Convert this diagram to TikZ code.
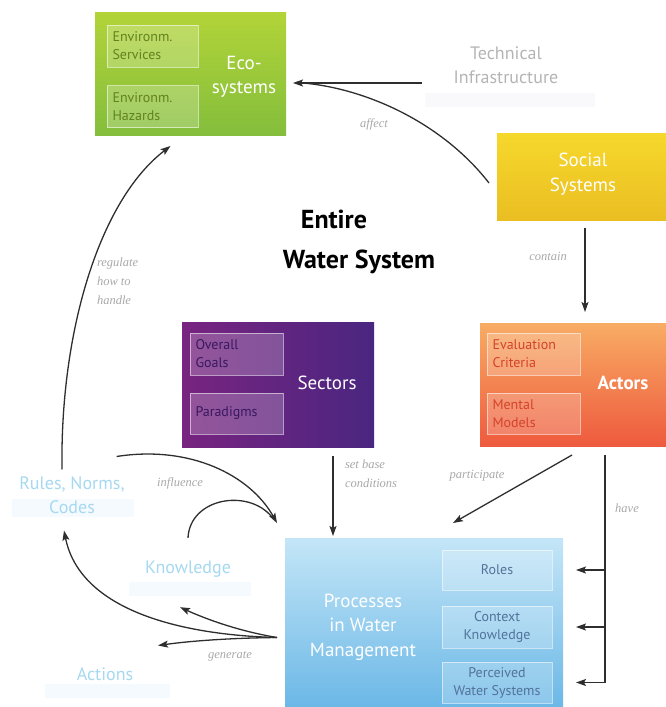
\documentclass[tikz,border=0pt]{standalone}
\usepackage{fontspec}
\setmainfont{PT Sans}
\newfontfamily\labelfont{Liberation Serif}
\usetikzlibrary{arrows.meta,calc}

\definecolor{ink}{HTML}{2E2E2E}
\definecolor{lbl}{HTML}{A8A8A8}
\definecolor{paleblue}{HTML}{A6D8F0}
\definecolor{palegray}{HTML}{B4B4B4}
\definecolor{ecoin}{HTML}{62821E}
\definecolor{secin}{HTML}{3A1860}
\definecolor{actin}{HTML}{D4432A}
\definecolor{procin}{HTML}{52729A}

\begin{document}
\begin{tikzpicture}[x=1pt,y=-1pt,
  every node/.style={inner sep=0pt, outer sep=0pt},
  big/.style={text=white, align=center, font=\fontsize{19}{24.5}\selectfont},
  inbox/.style={rectangle, draw=white, draw opacity=0.55, fill=white, fill opacity=0.22,
    text opacity=1, line width=0.8pt, font=\fontsize{14}{18}\selectfont},
  faint/.style={align=center, font=\fontsize{18}{24}\selectfont},
  haze/.style={rectangle, fill=paleblue, fill opacity=0.12, draw=none},
  edgelbl/.style={text=lbl, font=\fontsize{12.5}{19}\selectfont\labelfont\itshape, align=left},
  arr/.style={draw=ink, line width=1.3pt, -{Stealth[length=10pt,width=7pt,inset=2pt]}},
  plain/.style={draw=ink, line width=1.3pt},
]
\useasboundingbox (0,0) rectangle (666,707);

% ---- coloured boxes ----
\node[rectangle, minimum width=191, minimum height=123,
  top color={rgb,255:red,178;green,212;blue,56}, bottom color={rgb,255:red,132;green,190;blue,60}]
  (eco) at (190.5,73.5) {};
\node[rectangle, minimum width=176, minimum height=87,
  top color={rgb,255:red,246;green,216;blue,44}, bottom color={rgb,255:red,234;green,190;blue,34}]
  (social) at (585,176.5) {};
\node[rectangle, minimum width=192, minimum height=125,
  left color={rgb,255:red,120;green,36;blue,128}, right color={rgb,255:red,74;green,38;blue,128}]
  (sectors) at (278,384.5) {};
\node[rectangle, minimum width=190, minimum height=123,
  top color={rgb,255:red,248;green,172;blue,100}, bottom color={rgb,255:red,238;green,90;blue,62}]
  (actors) at (575,384.5) {};
\node[rectangle, minimum width=278, minimum height=175,
  top color={rgb,255:red,196;green,230;blue,247}, bottom color={rgb,255:red,104;green,182;blue,230}]
  (proc) at (424,625.5) {};

% ---- inner boxes ----
\node[inbox, minimum width=91, minimum height=42, text=ecoin, align=left, text width=80]
  (esrv) at (152.5,46) {Environm.\\Services};
\node[inbox, minimum width=91, minimum height=42, text=ecoin, align=left, text width=80]
  (ehaz) at (152.5,106.5) {Environm.\\Hazards};
\node[big] (ecot) at (244,77) {Eco-\\systems};

\node[big] (socialt) at (583,174) {Social\\Systems};

\node[inbox, minimum width=93, minimum height=42, text=secin, align=left, text width=82]
  (goals) at (236.5,354) {Overall\\Goals};
\node[inbox, minimum width=93, minimum height=41, text=secin, align=left, text width=82]
  (para) at (236.5,413.5) {Paradigms};
\node[big] (sectorst) at (327,383) {Sectors};

\node[inbox, minimum width=93, minimum height=42, text=actin, align=left, text width=82]
  (evalc) at (533.5,354) {Evaluation\\Criteria};
\node[inbox, minimum width=93, minimum height=41, text=actin, align=left, text width=82]
  (mental) at (533.5,413.5) {Mental\\Models};
\node[big, font=\fontsize{19}{24}\selectfont\bfseries] (actorst) at (623,383) {Actors};

\node[inbox, minimum width=110, minimum height=40, text=procin, align=center]
  (roles) at (497,570) {Roles};
\node[inbox, minimum width=110, minimum height=42, text=procin, align=center]
  (context) at (497,627) {Context\\Knowledge};
\node[inbox, minimum width=110, minimum height=41, text=procin, align=center]
  (perceived) at (497,682.5) {Perceived\\Water Systems};
\node[big] (proct) at (363,627) {Processes\\in Water\\Management};

% ---- pale elements ----
\node[rectangle, fill={rgb,255:red,200;green,196;blue,230}, fill opacity=0.10, minimum width=170, minimum height=14]
  (techhaze) at (510,100) {};
\node[faint, text=palegray] (tech) at (506,65.5) {Technical\\Infrastructure};

\node[haze, minimum width=122, minimum height=18] (ruleshaze) at (73,508) {};
\node[faint, text=paleblue] (rules) at (72,495) {Rules, Norms,\\Codes};

\node[haze, minimum width=122, minimum height=14] (knowhaze) at (190,589) {};
\node[faint, text=paleblue] (know) at (188,569) {Knowledge};

\node[haze, minimum width=125, minimum height=14] (acthaze) at (107,691) {};
\node[faint, text=paleblue] (actions) at (105,674) {Actions};

% ---- title ----
\node[align=center, font=\fontsize{26}{40}\selectfont\bfseries, text=black] (title) at (359,242)
  {\hspace*{-50pt}Entire\\Water System};

% ---- connectors ----
% technical infrastructure -> ecosystems
\coordinate (techin) at ($(tech.west)+(-32,17.5)$);
\draw[arr, shorten >=7pt] (techin) -- (techin -| eco.east);
% social systems affect ecosystems
\draw[plain] ($(social.west)+(-8,6.5)$) .. controls (440,120) and (360,86) .. ($(eco.east)+(10,9)$);
\node[edgelbl] (affect) at (374,124) {affect};

% social systems contain actors
\draw[arr] ($(social.south)+(0,8)$) -- ($(actors.north)+(10,-11)$);
\node[edgelbl] (contain) at (548,256) {contain};

% sectors set base conditions
\draw[arr] ($(sectors.south)+(55,9)$) -- ($(proc.north)+(-91,-2)$);
\node[edgelbl, anchor=west] (setbase) at (345,474) {set base\\conditions};

% actors participate
\draw[arr] ($(actors.south)+(-3,9)$) -- ($(proc.north)+(29,-15)$);
\node[edgelbl] (particip) at (477,476) {participate};

% actors have roles / context knowledge / perceived systems
\coordinate (havetop) at ($(actors.south)+(30,9)$);
\coordinate (havebot) at (havetop |- perceived.east);
\draw[plain] (havetop) -- (havebot);
\draw[arr, shorten >=24pt] (havetop |- roles.east) -- (roles.east);
\draw[arr, shorten >=24pt] (havetop |- context.east) -- (context.east);
\draw[arr, shorten >=24pt] (havebot) -- (perceived.east);
\node[edgelbl] (have) at (627,508) {have};

% rules regulate how to handle ecosystems
\draw[arr] ($(rules.north)+(-10,-7)$) .. controls (60,330) and (100,200) .. ($(eco.south)+(-20,11)$);
\node[edgelbl, anchor=west] (regulate) at (97,281) {regulate\\how to\\handle};

% rules and knowledge influence processes
\coordinate (inftip) at ($(proc.north west)+(-8,-15)$);
\draw[arr] ($(rules.north east)+(-8,-20)$) .. controls (190,445) and (250,475) .. (inftip);
\draw[plain] ($(know.north)+(0,-23)$) .. controls (190,498) and (248,488) .. ($(inftip)+(-5,-6)$);
\node[edgelbl] (influence) at (180,483) {influence};

% processes generate knowledge, actions and rules
\coordinate (gen) at ($(proc.west)+(-8,12)$);
\draw[arr] (gen) .. controls (232,630) and (197,615) .. ($(know.south)+(-8,30)$);
\draw[arr] (gen) .. controls (230,638) and (190,641) .. ($(actions.north)+(53,-22)$);
\draw[arr] (gen) .. controls (180,635) and (80,610) .. ($(rules.south)+(-8,17)$);
\node[edgelbl] (generate) at (230,656) {generate};

\end{tikzpicture}
\end{document}
